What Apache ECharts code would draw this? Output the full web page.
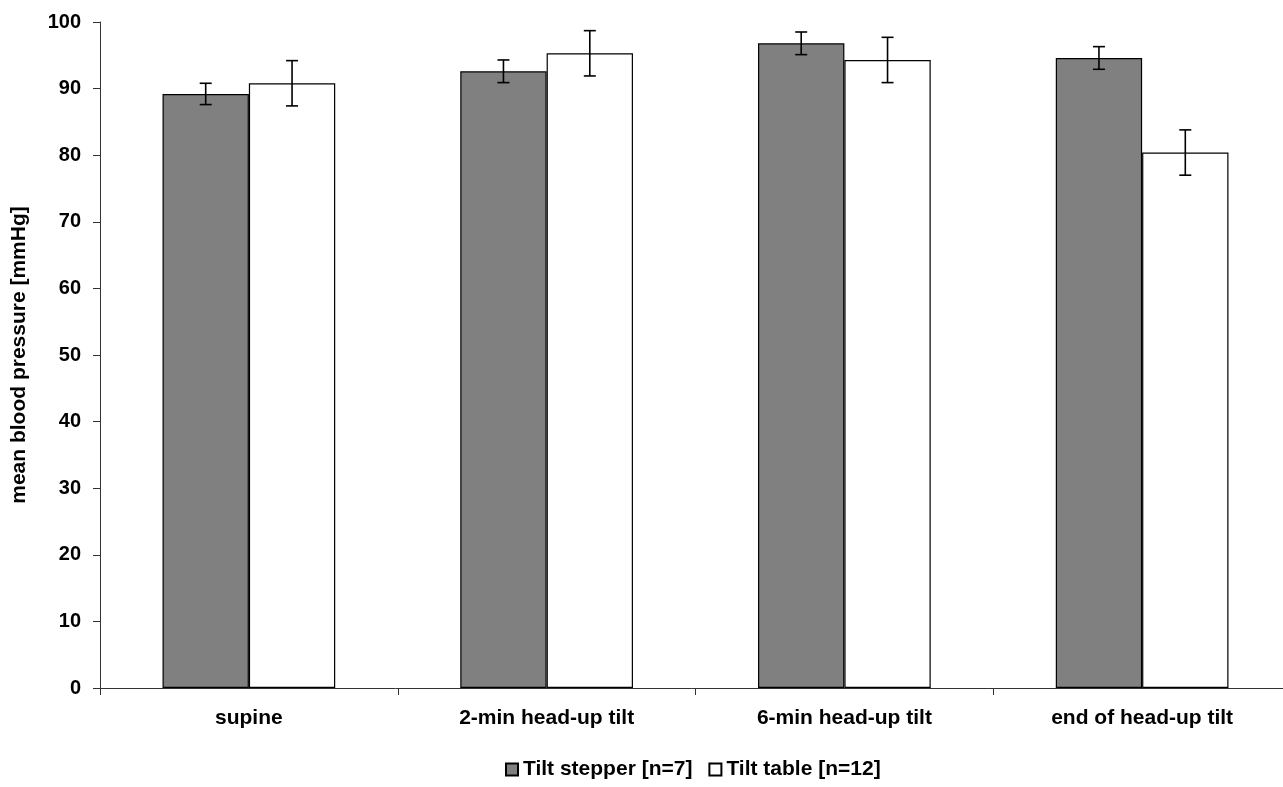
<!DOCTYPE html>
<html>
<head>
<meta charset="utf-8">
<script src="https://cdn.jsdelivr.net/npm/echarts@6/dist/echarts.min.js"></script>
<style>
  html, body { margin: 0; padding: 0; background: #fff; }
  #chart { width: 1283px; height: 787px; }
</style>
</head>
<body>
<div id="chart"></div>
<script>
const categories = ['supine', '2-min head-up tilt', '6-min head-up tilt', 'end of head-up tilt']
const stepperName = 'Tilt stepper [n=7]'
const tableName = 'Tilt table [n=12]'
const stepperMean = [89.2, 92.6, 96.8, 94.6]
const stepperErr = [1.6, 1.7, 1.7, 1.7]
const tableMean = [90.8, 95.3, 94.3, 80.4]
const tableErr = [3.4, 3.4, 3.4, 3.4]
const yTicks = [0, 10, 20, 30, 40, 50, 60, 70, 80, 90, 100]

const FONT = 'Liberation Sans, Arial, sans-serif'

const chart = echarts.init(document.getElementById('chart'))

// error bars drawn as custom series, shifted onto the bar of their group
function errorSeries(means, errs, side) {
  return {
    type: 'custom',
    silent: true,
    z: 5,
    data: means.map((m, i) => [i, m - errs[i], m + errs[i]]),
    renderItem: function (params, api) {
      const band = api.size([1, 0])[0]
      const shift = side * band * 0.145
      const lo = api.coord([api.value(0), api.value(1)])
      const hi = api.coord([api.value(0), api.value(2)])
      const x = lo[0] + shift
      const cap = 6
      const style = { stroke: '#000', lineWidth: 1.6 }
      return {
        type: 'group',
        children: [
          { type: 'line', shape: { x1: x, y1: hi[1], x2: x, y2: lo[1] }, style: style },
          { type: 'line', shape: { x1: x - cap, y1: hi[1], x2: x + cap, y2: hi[1] }, style: style },
          { type: 'line', shape: { x1: x - cap, y1: lo[1], x2: x + cap, y2: lo[1] }, style: style }
        ]
      }
    }
  }
}

const option = {
  backgroundColor: '#fff',
  animation: false,
  textStyle: { fontFamily: FONT },
  grid: { left: 100, right: -8, top: 22, bottom: 99, outerBoundsMode: 'none' },
  legend: {
    data: [stepperName, tableName],
    bottom: 2,
    left: 500,
    icon: 'rect',
    itemWidth: 12,
    itemHeight: 12,
    itemGap: 16,
    textStyle: { fontFamily: FONT, fontWeight: 'bold', fontSize: 21, color: '#000' }
  },
  xAxis: {
    type: 'category',
    data: categories,
    axisLine: { lineStyle: { color: '#333', width: 1 } },
    axisTick: { show: true, length: 7, lineStyle: { color: '#333' } },
    axisLabel: { margin: 20, color: '#000', fontWeight: 'bold', fontSize: 21, fontFamily: FONT }
  },
  yAxis: {
    type: 'value',
    min: 0,
    max: 100,
    interval: 10,
    name: 'mean blood pressure [mmHg]',
    nameLocation: 'middle',
    nameGap: 70,
    nameTextStyle: { fontWeight: 'bold', fontSize: 21, color: '#000', fontFamily: FONT },
    axisLine: { show: true, lineStyle: { color: '#333', width: 1 } },
    axisTick: { show: true, length: 7, lineStyle: { color: '#333' } },
    axisLabel: {
      margin: 19,
      color: '#000',
      fontWeight: 'bold',
      fontSize: 20,
      fontFamily: FONT,
      formatter: v => yTicks.includes(v) ? String(v) : ''
    },
    splitLine: { show: false }
  },
  series: [
    {
      name: stepperName,
      type: 'bar',
      data: stepperMean,
      barWidth: '29%',
      barGap: '0%',
      itemStyle: { color: '#808080', borderColor: '#000', borderWidth: 1.2 }
    },
    {
      name: tableName,
      type: 'bar',
      data: tableMean,
      barWidth: '29%',
      barGap: '0%',
      itemStyle: { color: '#fff', borderColor: '#000', borderWidth: 1.2 }
    },
    errorSeries(stepperMean, stepperErr, -1),
    errorSeries(tableMean, tableErr, 1)
  ]
}

chart.setOption(option)
</script>
</body>
</html>
